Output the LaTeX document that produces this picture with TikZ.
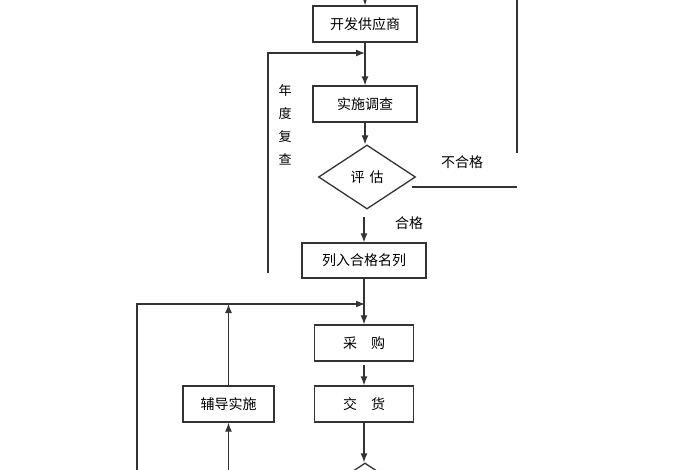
\documentclass[tikz,border=0pt]{standalone}
\usepackage{fontspec}
\setmainfont{Noto Sans CJK SC}
\usetikzlibrary{shapes.geometric,arrows.meta}
\begin{document}
\begin{tikzpicture}[x=1pt,y=-1pt,
  ln/.style={draw=black!80,line width=1.3pt},
  box/.style={draw=black!80,line width=1.3pt,rectangle,minimum height=36pt,inner sep=0pt,font=\fontsize{14}{15}\selectfont},
  dia/.style={draw=black!80,line width=1.3pt,diamond,inner sep=0pt,minimum width=97pt,minimum height=64pt,font=\fontsize{14}{15}\selectfont},
  arr/.style={ln,-{Latex[length=9pt,width=7pt]}},
  lab/.style={font=\fontsize{14}{15}\selectfont,inner sep=0pt}]
\useasboundingbox (0,0) rectangle (700,470);
\clip (0,0) rectangle (700,470);
\fill[white] (0,0) rectangle (700,470);

% nodes
\node[box,minimum width=104pt] (kf) at (365,24) {开发供应商};
\node[box,minimum width=104pt] (ss) at (365,104) {实施调查};
\node[dia] (pg) at (367,177) {评\hspace{5pt}估};
\node[box,minimum width=124pt,minimum height=35pt] (lr) at (364,260.5) {列入合格名列};
\node[box,minimum width=99pt] (cg) at (364,343) {采\hspace{1em}购};
\node[box,minimum width=99pt] (jh) at (364,404) {交\hspace{1em}货};
\node[box,minimum width=91pt] (fd) at (228.5,404) {辅导实施};
\node[dia] (pg2) at (365,495) {};

% labels
\node[lab] (bhg) at (462,162) {不合格};
\node[lab] (hg) at (409,223) {合格};
\node[lab,align=center,font=\fontsize{13}{23}\selectfont] (ndfc) at (285,125) {年\\度\\复\\查};

% coordinates
\coordinate (topin) at (365,0);
\coordinate (m1) at (365,53);
\coordinate (fbl) at (268,273);
\coordinate (fbt) at (268,53);
\coordinate (rtop) at (517,0);
\coordinate (rbot) at (517,153);
\coordinate (hl) at (412,187);
\coordinate (hr) at (517,187);
\coordinate (m2) at (365,304);
\coordinate (lb) at (137,470);
\coordinate (lt) at (137,304);
\coordinate (fdt) at (228.5,304);
\coordinate (fdb) at (228.5,470);

% connectors
\draw[arr] (topin) -- (kf.north);
\draw[arr] (kf.south) -- (ss.north);
\draw[arr] (fbl) -- (fbt) -- (m1);
\draw[arr] (ss.south) -- (ss.south |- pg.north);
\draw[arr,shorten <=7pt] (pg.south -| lr.north) -- (lr.north);
\draw[ln] (rtop) -- (rbot);
\draw[ln] (hl) -- (hr);
\draw[arr] (lr.south) -- (cg.north);
\draw[arr] (lb) -- (lt) -- (m2);
\draw[arr] (fd.north) -- (fdt);
\draw[arr] (fdb) -- (fd.south);
\draw[arr,shorten <=3pt] (cg.south) -- (jh.north);
\draw[arr] (jh.south) -- (jh.south |- pg2.north);
\end{tikzpicture}
\end{document}
